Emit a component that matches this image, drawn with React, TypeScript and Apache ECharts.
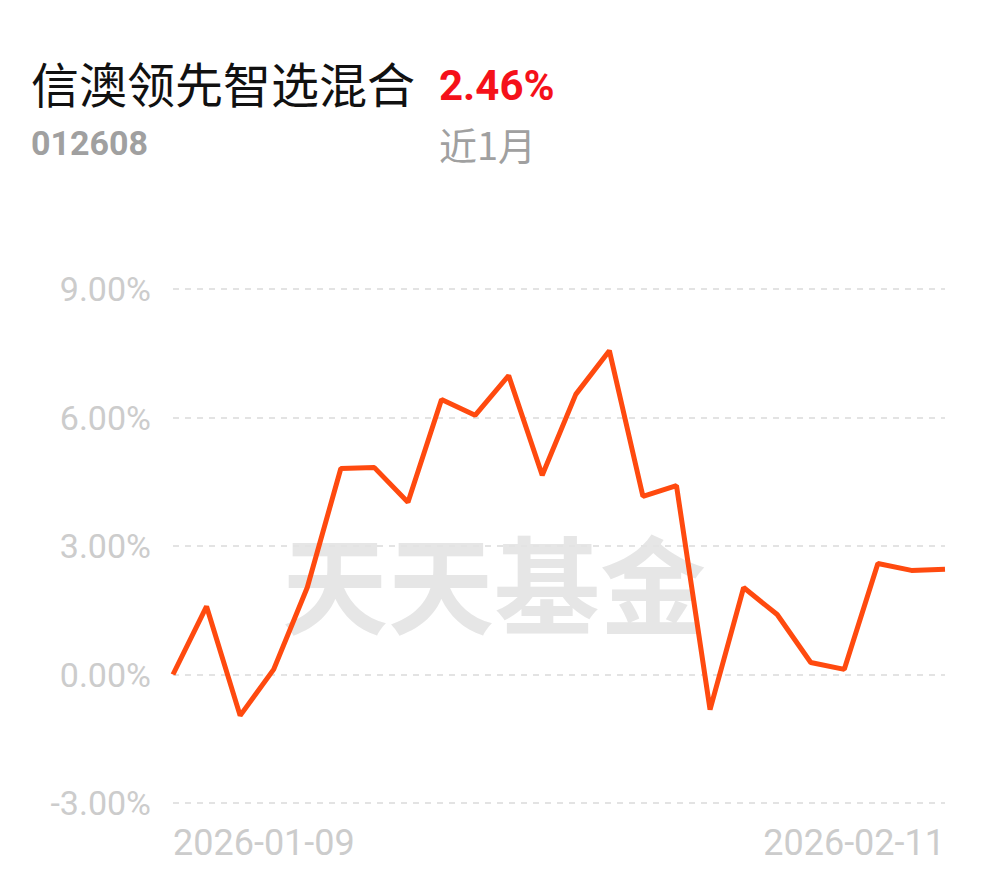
import React, { useEffect, useRef } from "react";
import * as echarts from "echarts";

const dates = [
  "2026-01-09", "2026-01-12", "2026-01-13", "2026-01-14", "2026-01-15", "2026-01-16",
  "2026-01-19", "2026-01-20", "2026-01-21", "2026-01-22", "2026-01-23",
  "2026-01-26", "2026-01-27", "2026-01-28", "2026-01-29", "2026-01-30",
  "2026-02-02", "2026-02-03", "2026-02-04", "2026-02-05", "2026-02-06",
  "2026-02-09", "2026-02-10", "2026-02-11",
];
const returns = [
  0, 1.59, -0.96, 0.12, 2.03, 4.81, 4.83, 4.02, 6.42, 6.05, 6.98, 4.65,
  6.54, 7.56, 4.16, 4.41, -0.82, 2.03, 1.4, 0.28, 0.12, 2.59, 2.43, 2.46,
];
const fundName = "信澳领先智选混合";
const fundCode = "012608";
const periodReturn = "2.46%";
const periodLabel = "近1月";
const watermark = "天天基金";

export default function App() {
  const ref = useRef<HTMLDivElement>(null);
  useEffect(() => {
    if (!ref.current) return;
    const chart = echarts.init(ref.current, null, { renderer: "svg" });
    const font = "Roboto, 'Noto Sans CJK SC', sans-serif";
    chart.setOption({
      animation: false,
      backgroundColor: "#ffffff",
      graphic: [
        {
          type: "text", left: 31, top: 58, z: 10,
          style: { text: fundName, fontSize: 48, fill: "#111", fontFamily: "'Noto Sans CJK SC', sans-serif" },
        },
        {
          type: "text", left: 439, top: 64, z: 10,
          style: { text: periodReturn, fontSize: 42, fontWeight: "bold", fill: "#f5111a", fontFamily: font },
        },
        {
          type: "text", left: 31, top: 126, z: 10,
          style: { text: fundCode, fontSize: 34, fontWeight: "bold", fill: "#a0a0a0", fontFamily: font },
        },
        {
          type: "text", left: 439, top: 124, z: 10,
          style: { text: periodLabel, fontSize: 38, fill: "#a0a0a0", fontFamily: "'Noto Sans CJK SC', sans-serif" },
        },
        {
          type: "text", left: 282, top: 527, z: 0,
          style: { text: watermark, fontSize: 106, fontWeight: "bold", fill: "#e6e6e6", fontFamily: "'Noto Sans CJK SC', sans-serif" },
        },
      ],
      grid: { left: 173, right: 45, top: 289, bottom: 75, containLabel: false },
      xAxis: {
        type: "category",
        data: dates,
        boundaryGap: false,
        axisLine: { show: false },
        axisTick: { show: false },
        splitLine: { show: false },
        axisLabel: {
          interval: (i: number) => i === 0 || i === dates.length - 1,
          alignMinLabel: "left",
          alignMaxLabel: "right",
          margin: 22,
          fontSize: 36,
          color: "#cccccc",
          fontFamily: font,
        },
      },
      yAxis: {
        type: "value",
        min: -3,
        max: 9,
        interval: 3,
        axisLine: { show: false },
        axisTick: { show: false },
        axisLabel: {
          formatter: (v: number) => v.toFixed(2) + "%",
          margin: 22,
          fontSize: 34,
          color: "#cccccc",
          fontFamily: font,
        },
        splitLine: { lineStyle: { type: [6, 6], color: "#e3e3e3", width: 2 } },
      },
      series: [
        {
          type: "line",
          data: returns,
          symbol: "none",
          z: 5,
          lineStyle: { color: "#ff4a0f", width: 5 },
        },
      ],
    });
    return () => chart.dispose();
  }, []);
  return <div ref={ref} style={{ width: 990, height: 878, position: "absolute", left: 0, top: 0 }} />;
}
